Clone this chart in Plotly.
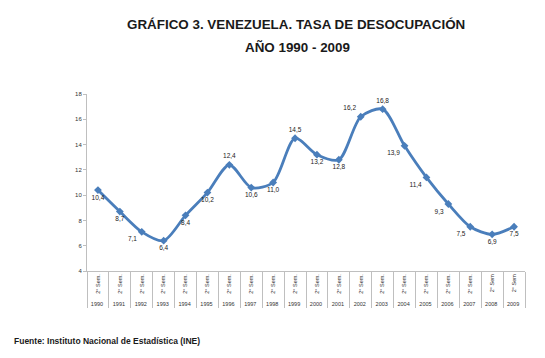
import plotly.graph_objects as go

years = [str(y) for y in range(1990, 2010)]
semesters = ["2° Sem."] * 18 + ["2° Sem", "2° Sem"]
values = [10.4, 8.7, 7.1, 6.4, 8.4, 10.2, 12.4, 10.6, 11.0, 14.5,
          13.2, 12.8, 16.2, 16.8, 13.9, 11.4, 9.3, 7.5, 6.9, 7.5]
labels = [f"{v:.1f}".replace(".", ",") for v in values]
text_pos = ["bottom center", "bottom center", "bottom left", "bottom center", "bottom center",
            "bottom center", "top center", "bottom center", "bottom center", "top center",
            "bottom center", "bottom center", "top left", "top center", "bottom left",
            "bottom left", "bottom left", "bottom left", "bottom center", "bottom center"]

# figure is drawn 8px in from the page corner (default body margin)
L, R, T, B = 79, 28, 86, 95
PW, PH = 545 - L - R, 358 - T - B


def px(xp):
    return (xp - 8 - L) / PW


def py(yp):
    return (358 - B - (yp - 8)) / PH


fig = go.Figure()
fig.add_trace(go.Scatter(
    x=[years, semesters], y=values,
    mode="lines+markers+text",
    line=dict(color="#4A7EBB", width=2.8, shape="spline", smoothing=0.8),
    marker=dict(symbol="diamond", size=6, color="#4A7EBB"),
    text=labels, textposition=text_pos,
    textfont=dict(family="Liberation Sans, Arial", size=6.5, color="#222222"),
    cliponaxis=False,
))

fig.update_layout(
    width=545, height=358,
    margin=dict(l=L, r=R, t=T, b=B, autoexpand=False),
    paper_bgcolor="white", plot_bgcolor="white",
    showlegend=False,
    xaxis=dict(
        type="multicategory",
        range=[-0.5, len(values) - 0.5],
        showline=True, linecolor="#BFBFBF", linewidth=1,
        showdividers=True, dividercolor="#BFBFBF", dividerwidth=1,
        tickangle=-90,
        tickfont=dict(family="Liberation Sans, Arial", size=5.5, color="#333333"),
        ticks="", showgrid=False, automargin=False,
    ),
    yaxis=dict(
        range=[4, 18], dtick=2,
        showline=True, linecolor="#BFBFBF", linewidth=1,
        ticks="outside", ticklen=3, tickcolor="#BFBFBF",
        showgrid=False, zeroline=False,
        tickfont=dict(family="Liberation Sans, Arial", size=6, color="#333333"),
    ),
)

title_font = dict(family="Liberation Sans Narrow, Liberation Sans, Arial", size=13.4, color="#1a1a1a")
fig.add_annotation(text="<b>GRÁFICO 3. VENEZUELA. TASA DE DESOCUPACIÓN</b>",
                   xref="paper", yref="paper", x=px(296), y=py(24.5),
                   xanchor="center", yanchor="middle", showarrow=False, font=title_font)
fig.add_annotation(text="<b>AÑO 1990 - 2009</b>",
                   xref="paper", yref="paper", x=px(297), y=py(47.5),
                   xanchor="center", yanchor="middle", showarrow=False, font=title_font)

fig.add_annotation(
    text="<b>Fuente: Instituto Nacional de Estadística (INE)</b>",
    xref="paper", yref="paper", x=px(12), y=py(341), xanchor="left", yanchor="middle",
    showarrow=False,
    font=dict(family="Liberation Sans Narrow, Liberation Sans, Arial", size=8.5, color="#1a1a1a"),
)

fig.write_html("out.html")
